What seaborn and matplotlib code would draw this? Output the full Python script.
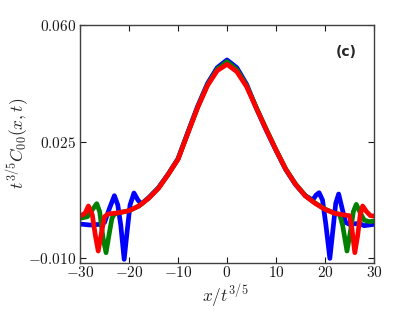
import numpy as np
import pandas as pd
import matplotlib
matplotlib.use("Agg")
import matplotlib.pyplot as plt
import seaborn as sns

# ---- data ----
blue_x = [-30, -28, -26, -25, -24, -23, -22.3, -21.7, -21, -20.4, -19.8, -19, -18.2, -17.5,
          -16, -14, -12, -10, -8, -6, -4, -2, 0, 2, 4, 6, 8, 10, 12, 14, 16, 17.5, 18.2, 18.8,
          19.5, 20.2, 21, 21.7, 22.2, 22.8, 23.5, 24.2, 25, 27, 28, 30]
blue_y = [0.0003, 0.0000, 0.0002, 0.0008, 0.0050, 0.0088, 0.0060, 0.0000, -0.0103, -0.0020,
          0.0060, 0.0096, 0.0075, 0.0063, 0.0082, 0.0112, 0.0153, 0.0199, 0.0278, 0.0356,
          0.0424, 0.0472, 0.0495, 0.0472, 0.0422, 0.0350, 0.0285, 0.0224, 0.0166, 0.0121,
          0.0088, 0.0075, 0.0090, 0.0097, 0.0075, 0.0000, -0.0100, -0.0005, 0.0065, 0.0093,
          0.0050, 0.0008, 0.0002, 0.0005, -0.0002, 0.0002]

green_x = [-30, -28.5, -27.3, -26.6, -26, -25.3, -24.7, -24.1, -23.5, -23, -22, -20, -18,
           -16, -14, -12, -10, -8, -6, -4, -2, 0, 2, 4, 6, 8, 10, 12, 14, 16, 18, 20, 22,
           23, 23.6, 24.5, 25.2, 25.8, 26.4, 27.1, 28, 29, 30]
green_y = [0.0020, 0.0025, 0.0050, 0.0064, 0.0040, -0.0040, -0.0083, -0.0030, 0.0020, 0.0033,
           0.0037, 0.0043, 0.0057, 0.0081, 0.0111, 0.0152, 0.0198, 0.0276, 0.0353, 0.0420,
           0.0467, 0.0490, 0.0466, 0.0418, 0.0352, 0.0288, 0.0226, 0.0168, 0.0123, 0.0088,
           0.0066, 0.0048, 0.0035, 0.0032, 0.0000, -0.0078, -0.0020, 0.0040, 0.0062, 0.0040,
           0.0015, 0.0010, 0.0012]

red_x = [-30, -29, -28.3, -27.5, -26.9, -26.3, -25.6, -25, -24.3, -22, -20, -18, -16, -14,
         -12, -10, -8, -6, -4, -2, 0, 2, 4, 6, 8, 10, 12, 14, 16, 18, 20, 22, 24, 25, 25.5,
         26.1, 26.7, 27.2, 27.7, 28.5, 29.3, 30]
red_y = [0.0027, 0.0035, 0.0057, 0.0030, -0.0030, -0.0078, -0.0020, 0.0025, 0.0033, 0.0037,
         0.0043, 0.0057, 0.0080, 0.0110, 0.0152, 0.0197, 0.0275, 0.0352, 0.0418, 0.0463,
         0.0482, 0.0460, 0.0415, 0.0350, 0.0286, 0.0225, 0.0167, 0.0122, 0.0087, 0.0065,
         0.0047, 0.0035, 0.0030, 0.0028, -0.0010, -0.0083, -0.0030, 0.0030, 0.0057, 0.0040,
         0.0028, 0.0027]

series = [("blue", blue_x, blue_y, "#0000ff"),
          ("green", green_x, green_y, "#008000"),
          ("red", red_x, red_y, "#ff0000")]

x_ticks = [-30, -20, -10, 0, 10, 20, 30]
y_ticks = [-0.010, 0.025, 0.060]
y_tick_labels = [r"$-0.010$", r"$0.025$", r"$0.060$"]
x_tick_labels = [r"$-30$", r"$-20$", r"$-10$", r"$0$", r"$10$", r"$20$", r"$30$"]

# ---- plotting ----
sns.set_style("ticks")
plt.rcParams["mathtext.fontset"] = "cm"
plt.rcParams["font.family"] = ["DejaVu Sans"]

fig = plt.figure(figsize=(4.15, 3.12), dpi=100)
ax = fig.add_axes([0.193, 0.158, 0.708, 0.762])

for name, xs, ys, col in series:
    df = pd.DataFrame({"x": xs, "y": ys})
    sns.lineplot(data=df, x="x", y="y", ax=ax, color=col, lw=3.4, sort=False,
                 estimator=None, legend=False)

ax.set_xlim(-30, 30)
ax.set_ylim(-0.0113, 0.060)
ax.set_xticks(x_ticks)
ax.set_xticklabels(x_tick_labels, fontsize=11)
ax.set_yticks(y_ticks)
ax.set_yticklabels(y_tick_labels, fontsize=11)
ax.tick_params(direction="in", length=4, width=0.8, top=True, right=True,
               colors="0.1")
ax.tick_params(axis="x", pad=2)
ax.tick_params(axis="y", pad=3)
for sp in ax.spines.values():
    sp.set_visible(True)
    sp.set_color("0.25")
    sp.set_linewidth(1.0)

ax.set_xlabel(r"$x/t^{3/5}$", fontsize=12.5)
ax.set_ylabel(r"$t^{3/5}C_{00}(x,t)$", fontsize=12.5)
ax.xaxis.set_label_coords(0.495, -0.142)
ax.xaxis.label.set_verticalalignment("center")
ax.yaxis.set_label_coords(-0.211, 0.5)
ax.yaxis.label.set_verticalalignment("center")
ax.text(0.905, 0.885, "(c)", transform=ax.transAxes, fontsize=10, fontweight="bold",
        ha="center", va="center")

fig.savefig("out.png", dpi=100)
